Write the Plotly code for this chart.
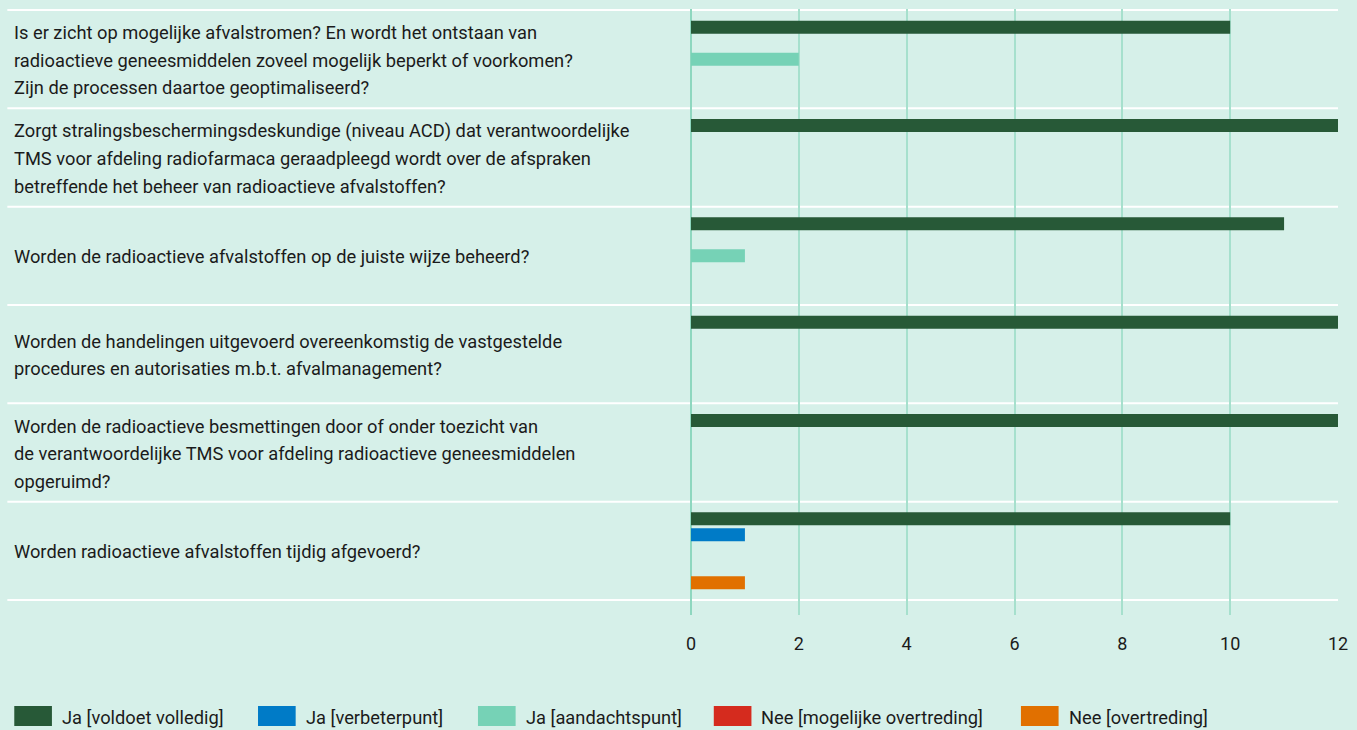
import plotly.graph_objects as go

categories = [
    "Is er zicht op mogelijke afvalstromen? En wordt het ontstaan van<br>radioactieve geneesmiddelen zoveel mogelijk beperkt of voorkomen?<br>Zijn de processen daartoe geoptimaliseerd?",
    "Zorgt stralingsbeschermingsdeskundige (niveau ACD) dat verantwoordelijke<br>TMS voor afdeling radiofarmaca geraadpleegd wordt over de afspraken<br>betreffende het beheer van radioactieve afvalstoffen?",
    "Worden de radioactieve afvalstoffen op de juiste wijze beheerd?",
    "Worden de handelingen uitgevoerd overeenkomstig de vastgestelde<br>procedures en autorisaties m.b.t. afvalmanagement?",
    "Worden de radioactieve besmettingen door of onder toezicht van<br>de verantwoordelijke TMS voor afdeling radioactieve geneesmiddelen<br>opgeruimd?",
    "Worden radioactieve afvalstoffen tijdig afgevoerd?",
]

series_names = [
    "Ja [voldoet volledig]",
    "Ja [verbeterpunt]",
    "Ja [aandachtspunt]",
    "Nee [mogelijke overtreding]",
    "Nee [overtreding]",
]
voldoet_volledig = [10, 12, 11, 12, 12, 10]
verbeterpunt = [0, 0, 0, 0, 0, 1]
aandachtspunt = [2, 0, 1, 0, 0, 0]
mogelijke_overtreding = [0, 0, 0, 0, 0, 0]
overtreding = [0, 0, 0, 0, 0, 1]
series_values = [voldoet_volledig, verbeterpunt, aandachtspunt, mogelijke_overtreding, overtreding]
series_colors = ["#275937", "#007bc7", "#76d2b6", "#d52b1e", "#e17000"]

x_ticks = [0, 2, 4, 6, 8, 10, 12]

FONT = "Roboto, 'Open Sans', sans-serif"
TEXT = "#1b1b1b"
BG = "#d6f0e9"
W, H = 1357, 730
PL, PR, PT, PB = 691, 1344, 9, 615
LABEL_SIZE = 18.3


def px_x(x):
    return (x - PL) / (PR - PL)


def px_y(y):
    return (PB - y) / (PB - PT)


idx = list(range(len(categories)))
fig = go.Figure()
for name, vals, col in zip(series_names, series_values, series_colors):
    fig.add_trace(go.Bar(
        y=idx, x=vals, name=name, orientation="h",
        marker=dict(color=col, line=dict(width=0)),
        showlegend=False, hoverinfo="x+name",
    ))

row_px = (600 - 10) / len(categories)
extra_bottom = (PB - 600) / row_px
extra_top = (10 - PT) / row_px

annotations = []
for i, cat in enumerate(categories):
    lines = cat.split("<br>")
    n = len(lines)
    for k, line in enumerate(lines):
        annotations.append(dict(
            xref="paper", yref="y", x=px_x(6), y=i, xanchor="left", yanchor="middle",
            text=line, showarrow=False, yshift=-(k - (n - 1) / 2) * 27.5 - 1,
            font=dict(family=FONT, size=LABEL_SIZE, color=TEXT),
        ))

shapes = []
for i in range(len(categories) + 1):
    shapes.append(dict(
        type="line", xref="paper", yref="y", x0=px_x(1), x1=1, y0=i - 0.5, y1=i - 0.5,
        line=dict(color="white", width=2), layer="between",
    ))

# custom legend
legend_box_x = [8, 254, 476, 714, 1024]
for name, col, bx in zip(series_names, series_colors, legend_box_x):
    shapes.append(dict(
        type="rect", xref="paper", yref="paper",
        x0=px_x(bx), x1=px_x(bx + 38), y0=px_y(726), y1=px_y(706),
        fillcolor=col, line=dict(width=0),
    ))
    annotations.append(dict(
        xref="paper", yref="paper", x=px_x(bx + 46), y=px_y(717), xanchor="left", yanchor="middle",
        text=name, showarrow=False, font=dict(family=FONT, size=LABEL_SIZE, color=TEXT),
    ))

fig.update_layout(
    width=W, height=H,
    margin=dict(l=PL, r=W - PR, t=PT, b=H - PB, pad=0),
    paper_bgcolor=BG, plot_bgcolor=BG,
    barmode="group", bargap=0.186, bargroupgap=0.1875,
    font=dict(family=FONT, color=TEXT),
    xaxis=dict(
        range=[0, 12], tickvals=x_ticks, ticktext=[str(t) for t in x_ticks],
        showgrid=True, gridcolor="#a6e0cd", gridwidth=2,
        zeroline=True, zerolinecolor="#8ed7bf", zerolinewidth=2,
        ticks="outside", ticklen=12, tickcolor="rgba(0,0,0,0)",
        tickfont=dict(family=FONT, size=18, color=TEXT), showline=False,
    ),
    yaxis=dict(
        range=[len(categories) - 0.5 + extra_bottom, -0.5 - extra_top],
        showticklabels=False, showgrid=False, zeroline=False, showline=False,
    ),
    annotations=annotations, shapes=shapes,
)

fig.write_html(
    "out.html",
    config={"displayModeBar": False},
    post_script="document.body.style.margin='0';document.body.style.background='%s';" % BG,
)
